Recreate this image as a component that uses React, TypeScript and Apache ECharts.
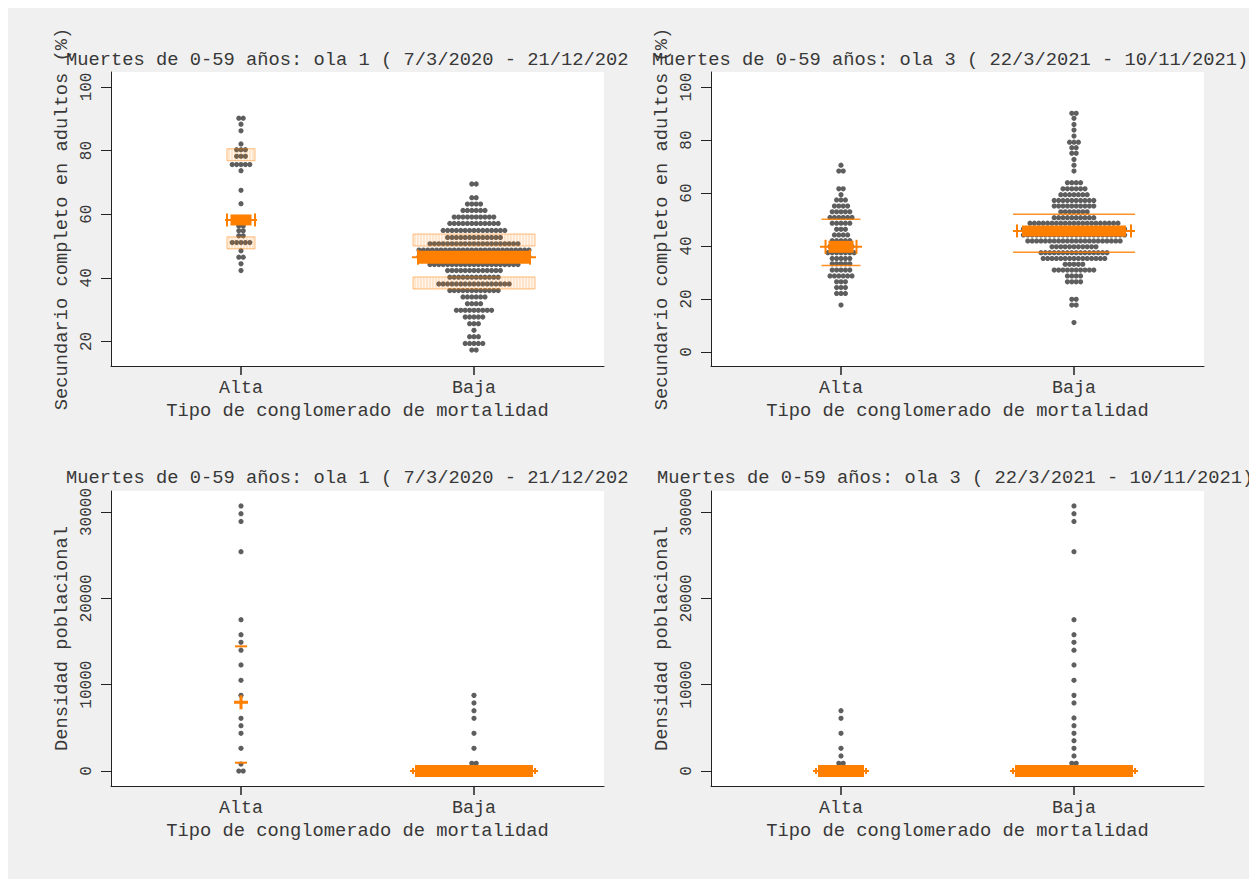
import React, { useEffect, useRef } from 'react';
import * as echarts from 'echarts';

// ---------- texts ----------
const categories = ['Alta', 'Baja'];
const titleOla1 = 'Muertes de 0-59 años: ola 1 ( 7/3/2020 - 21/12/2020)';
const titleOla3 = 'Muertes de 0-59 años: ola 3 ( 22/3/2021 - 10/11/2021)';
const xAxisName = 'Tipo de conglomerado de mortalidad';
const yNameEdu = 'Secundario completo en adultos (%)';
const yNameDens = 'Densidad poblacional';

// ---------- tick values ----------
const eduOla1Ticks = [20, 40, 60, 80, 100];
const eduOla3Ticks = [0, 20, 40, 60, 80, 100];
const densTicks = [0, 10000, 20000, 30000];

// ---------- swarm rows: [value, number of dots in the row] ----------
const eduOla1Alta = [
  [90.2, 2], [88.3, 1], [86.2, 1], [82.1, 1], [80.3, 3], [78.2, 3], [75.6, 5], [73.7, 1],
  [67.5, 1], [63.3, 1], [58.6, 3], [57.6, 2], [56.3, 2], [54.8, 2], [53.2, 2], [51.1, 5],
  [48.5, 1], [46.5, 2], [44.4, 1], [42.3, 1],
];
const eduOla1Baja = [
  [69.5, 2], [65.2, 2], [63.2, 4], [61.2, 6], [59.1, 10], [57.1, 12], [54.9, 15], [52.7, 13],
  [50.7, 21], [48.75, 26], [46.6, 26], [44.2, 21], [42.3, 13], [40.2, 12], [38.1, 17], [36.0, 12],
  [34.0, 6], [31.9, 4], [29.8, 9], [27.7, 5], [25.6, 3], [23.5, 1], [21.5, 3], [19.4, 5], [17.3, 2],
];
const eduOla3Alta = [
  [70.5, 1], [68.3, 2], [61.6, 2], [59.4, 1], [57.4, 3], [55.1, 4], [52.9, 5], [50.8, 6],
  [48.6, 5], [46.3, 3], [44.2, 4], [42.0, 5], [39.8, 6], [37.5, 7], [35.3, 5], [33.3, 5],
  [30.9, 5], [28.7, 6], [26.5, 3], [24.3, 3], [22.1, 3], [17.7, 1],
];
const eduOla3Baja = [
  [90.1, 2], [88.2, 1], [85.9, 1], [83.8, 1], [81.5, 1], [79.2, 3], [77.1, 2], [75.0, 2],
  [72.7, 1], [70.5, 1], [68.3, 1], [63.9, 4], [61.6, 6], [59.4, 7], [57.2, 10], [55.1, 10],
  [52.9, 7], [50.7, 10], [48.6, 21], [46.4, 24], [44.2, 24], [41.9, 22], [39.7, 11], [37.5, 16],
  [35.3, 15], [33.1, 5], [30.9, 10], [28.7, 4], [26.5, 4], [19.9, 2], [17.7, 2], [11.1, 1],
];
const densOla1Alta = [
  [30700, 1], [29800, 1], [28900, 1], [25400, 1], [17530, 1], [15790, 1], [14900, 1], [14000, 1],
  [12280, 1], [10500, 1], [8760, 1], [6100, 1], [5250, 1], [4370, 1], [2630, 1], [810, 1], [0, 2],
];
const densOla1Baja = [
  [8760, 1], [7880, 1], [6990, 1], [6100, 1], [4370, 1], [2630, 1], [890, 2], [300, 24], [0, 26],
];
const densOla3Alta = [
  [6990, 1], [6100, 1], [4370, 1], [2630, 1], [1740, 1], [890, 2], [300, 8], [0, 10],
];
const densOla3Baja = [
  [30700, 1], [29800, 1], [28900, 1], [25400, 1], [17530, 1], [15790, 1], [14900, 1], [14000, 1],
  [12280, 1], [10500, 1], [8760, 1], [7880, 1], [6140, 1], [5250, 1], [4370, 1], [3510, 1],
  [2630, 1], [1740, 1], [890, 2], [300, 24], [0, 26],
];

// ---------- summary marks (Alta, Baja) ----------
const eduOla1Median = [58.2, 46.5];
const eduOla1Q1 = [51.0, 38.4];
const eduOla1Q3 = [78.7, 51.9];
const eduOla3Median = [39.7, 45.7];
const eduOla3Q1 = [32.6, 37.6];
const eduOla3Q3 = [50.1, 52.0];
const densOla1Median = [7960, 0];
const densOla1Q1 = [960, 0];
const densOla1Q3 = [14440, 0];
const densOla3Median = [0, 0];
const densOla3Q1 = [0, 0];
const densOla3Q3 = [0, 0];

// ---------- styles ----------
const FONT = "'Liberation Mono', 'DejaVu Sans Mono', monospace";
const FS = 18.3;
const FS_BIG = 18.75;
const TEXT = '#383838';
const AXIS = '#222';
const DOT = '#5e5e5e';
const ORANGE = '#ff7f00';
const DOT_R = 2.6;
const DOT_STEP = 4.4;

type MarkStyle = { kind: string; hw?: number; h?: number; lineHw?: number; tickHw?: number; tickH?: number };

const swarmRender = (params: any, api: any) => {
  const cat = api.value(0);
  const v = api.value(1);
  const n = api.value(2);
  const [cx, cy] = api.coord([cat, v]);
  const children: any[] = [];
  for (let i = 0; i < n; i++) {
    children.push({
      type: 'circle',
      shape: { cx: cx + (i - (n - 1) / 2) * DOT_STEP, cy, r: DOT_R },
      style: { fill: DOT },
    });
  }
  return { type: 'group', children };
};

const markRender = (st: MarkStyle) => (params: any, api: any) => {
  const [cx, cy] = api.coord([api.value(0), api.value(1)]);
  const ch: any[] = [];
  const hw = st.hw || 0;
  const h = st.h || 0;
  if (st.kind === 'box') {
    ch.push({ type: 'rect', shape: { x: cx - hw, y: cy - h / 2, width: 2 * hw, height: h },
      style: { fill: 'rgba(255,127,0,0.08)', stroke: 'rgba(255,127,0,0.5)', lineWidth: 1 } });
    for (let x = -hw + 2; x < hw; x += 3) {
      ch.push({ type: 'line', shape: { x1: cx + x, y1: cy - h / 2, x2: cx + x, y2: cy + h / 2 },
        style: { stroke: 'rgba(255,127,0,0.25)', lineWidth: 1 } });
    }
  } else if (st.kind === 'line') {
    ch.push({ type: 'line', shape: { x1: cx - hw, y1: cy, x2: cx + hw, y2: cy },
      style: { stroke: ORANGE, lineWidth: 1.5, opacity: 0.85 } });
  } else if (st.kind === 'dash') {
    ch.push({ type: 'line', shape: { x1: cx - hw, y1: cy, x2: cx + hw, y2: cy },
      style: { stroke: ORANGE, lineWidth: 2 } });
  } else if (st.kind === 'plus') {
    ch.push({ type: 'line', shape: { x1: cx - hw, y1: cy, x2: cx + hw, y2: cy },
      style: { stroke: ORANGE, lineWidth: 3 } });
    ch.push({ type: 'line', shape: { x1: cx, y1: cy - hw, x2: cx, y2: cy + hw },
      style: { stroke: ORANGE, lineWidth: 3 } });
  } else if (st.kind === 'fill') {
    ch.push({ type: 'rect', shape: { x: cx - hw, y: cy - h / 2, width: 2 * hw, height: h },
      style: { fill: ORANGE } });
  } else if (st.kind === 'band') {
    const lh = st.lineHw || hw;
    const th = st.tickHw || hw;
    const tH = st.tickH !== undefined ? st.tickH : h + 2;
    ch.push({ type: 'rect', shape: { x: cx - hw, y: cy - h / 2, width: 2 * hw, height: h },
      style: { fill: ORANGE } });
    ch.push({ type: 'line', shape: { x1: cx - lh, y1: cy, x2: cx + lh, y2: cy },
      style: { stroke: ORANGE, lineWidth: 2 } });
    [-th, th].forEach((t) => {
      ch.push({ type: 'line', shape: { x1: cx + t, y1: cy - tH / 2, x2: cx + t, y2: cy + tH / 2 },
        style: { stroke: ORANGE, lineWidth: 2 } });
    });
  }
  return { type: 'group', children: ch };
};

type Panel = {
  title: string;
  yName: string;
  yMin: number;
  yMax: number;
  ticks: number[];
  rows: number[][][];
  median: number[];
  q1: number[];
  q3: number[];
  medianStyle: MarkStyle[];
  quartStyle: MarkStyle[];
  gridLeft: number;
  gridTop: number;
  gridHeight: number;
  titleX: number;
  titleY: number;
};

const buildOption = (p: Panel) => {
  const series: any[] = [];
  p.rows.forEach((rows, ci) => {
    series.push({
      type: 'custom',
      renderItem: swarmRender,
      data: rows.map(([v, n]) => [ci + 1, v, n]),
      silent: true,
    });
  });
  [0, 1].forEach((ci) => {
    series.push({
      type: 'custom',
      renderItem: markRender(p.quartStyle[ci]),
      data: [[ci + 1, p.q1[ci]], [ci + 1, p.q3[ci]]],
      silent: true,
    });
    series.push({
      type: 'custom',
      renderItem: markRender(p.medianStyle[ci]),
      data: [[ci + 1, p.median[ci]]],
      silent: true,
    });
  });
  return {
    animation: false,
    backgroundColor: 'transparent',
    textStyle: { fontFamily: FONT },
    grid: {
      left: p.gridLeft, top: p.gridTop, width: 493, height: p.gridHeight,
      show: true, backgroundColor: '#ffffff', borderWidth: 0,
    },
    graphic: [{
      type: 'text', x: p.titleX, y: p.titleY, z: 100,
      style: { text: p.title, fill: TEXT, fontFamily: FONT, fontSize: FS_BIG, verticalAlign: 'middle', align: 'left' },
    }],
    xAxis: {
      type: 'value', min: 0.442, max: 2.558,
      axisLine: { show: true, onZero: false, lineStyle: { color: AXIS, width: 1 } },
      axisTick: { show: true, customValues: [1, 2], length: 9, lineStyle: { color: AXIS, width: 1.5 } },
      axisLabel: {
        customValues: [1, 2], margin: 13, color: TEXT, fontFamily: FONT, fontSize: FS,
        formatter: (v: number) => categories[Math.round(v) - 1] || '',
      },
      splitLine: { show: false },
      name: xAxisName, nameLocation: 'middle', nameGap: 30,
      nameTextStyle: { color: TEXT, fontFamily: FONT, fontSize: FS_BIG },
    },
    yAxis: {
      type: 'value', min: p.yMin, max: p.yMax,
      axisLine: { show: true, onZero: false, lineStyle: { color: AXIS, width: 1 } },
      axisTick: { show: true, customValues: p.ticks, length: 10, lineStyle: { color: AXIS, width: 1 } },
      axisLabel: {
        customValues: p.ticks, rotate: 90, margin: 16, color: TEXT, fontFamily: FONT, fontSize: 16,
        formatter: (v: number) => String(v),
      },
      splitLine: { show: false },
      name: p.yName, nameLocation: 'middle', nameGap: 37,
      nameTextStyle: { color: TEXT, fontFamily: FONT, fontSize: FS_BIG },
    },
    series,
  };
};

const bandStyle = (hw: number): MarkStyle => ({ kind: 'band', hw, h: 12, lineHw: hw + 5, tickHw: hw + 2, tickH: 6 });
const fillStyle = (hw: number): MarkStyle => ({ kind: 'fill', hw, h: 12 });

const panels: { left: number; top: number; width: number; height: number; panel: Panel }[] = [
  {
    left: 0, top: 0, width: 621, height: 420,
    panel: {
      title: titleOla1, yName: yNameEdu, yMin: 12.3, yMax: 104.7, ticks: eduOla1Ticks,
      rows: [eduOla1Alta, eduOla1Baja], median: eduOla1Median, q1: eduOla1Q1, q3: eduOla1Q3,
      medianStyle: [
        { kind: 'band', hw: 10.5, h: 11, lineHw: 16, tickHw: 14 },
        { kind: 'band', hw: 57, h: 13, lineHw: 62, tickHw: 56 },
      ],
      quartStyle: [{ kind: 'box', hw: 14, h: 12 }, { kind: 'box', hw: 61, h: 12 }],
      gridLeft: 103, gridTop: 64, gridHeight: 294, titleX: 58, titleY: 52,
    },
  },
  {
    left: 622, top: 0, width: 619, height: 420,
    panel: {
      title: titleOla3, yName: yNameEdu, yMin: -5.3, yMax: 105.7, ticks: eduOla3Ticks,
      rows: [eduOla3Alta, eduOla3Baja], median: eduOla3Median, q1: eduOla3Q1, q3: eduOla3Q3,
      medianStyle: [
        { kind: 'band', hw: 12.5, h: 12, lineHw: 21, tickHw: 15.5 },
        { kind: 'band', hw: 52, h: 11, lineHw: 61, tickHw: 57 },
      ],
      quartStyle: [{ kind: 'line', hw: 19.5 }, { kind: 'line', hw: 61 }],
      gridLeft: 81, gridTop: 64, gridHeight: 294, titleX: 22, titleY: 52,
    },
  },
  {
    left: 0, top: 420, width: 621, height: 451,
    panel: {
      title: titleOla1, yName: yNameDens, yMin: -1737, yMax: 32432, ticks: densTicks,
      rows: [densOla1Alta, densOla1Baja], median: densOla1Median, q1: densOla1Q1, q3: densOla1Q3,
      medianStyle: [{ kind: 'plus', hw: 7 }, bandStyle(59)],
      quartStyle: [{ kind: 'dash', hw: 6 }, fillStyle(59)],
      gridLeft: 103, gridTop: 63, gridHeight: 295, titleX: 58, titleY: 50,
    },
  },
  {
    left: 622, top: 420, width: 619, height: 451,
    panel: {
      title: titleOla3, yName: yNameDens, yMin: -1737, yMax: 32432, ticks: densTicks,
      rows: [densOla3Alta, densOla3Baja], median: densOla3Median, q1: densOla3Q1, q3: densOla3Q3,
      medianStyle: [bandStyle(23), bandStyle(59)],
      quartStyle: [fillStyle(23), fillStyle(59)],
      gridLeft: 81, gridTop: 63, gridHeight: 295, titleX: 27, titleY: 50,
    },
  },
];

const ChartPanel = ({ spec }: { spec: (typeof panels)[number] }) => {
  const ref = useRef<HTMLDivElement>(null);
  useEffect(() => {
    if (!ref.current) return;
    const chart = echarts.init(ref.current, undefined, { renderer: 'svg' });
    chart.setOption(buildOption(spec.panel) as any);
    return () => chart.dispose();
  }, [spec]);
  return (
    <div
      ref={ref}
      style={{
        position: 'absolute', left: spec.left, top: spec.top,
        width: spec.width, height: spec.height, overflow: 'hidden',
      }}
    />
  );
};

export default function App() {
  return (
    <div
      style={{
        position: 'fixed', left: 8, top: 8, width: 1241, height: 871,
        background: '#f0f0f0', overflow: 'hidden',
      }}
    >
      {panels.map((p, i) => (
        <ChartPanel key={i} spec={p} />
      ))}
    </div>
  );
}
